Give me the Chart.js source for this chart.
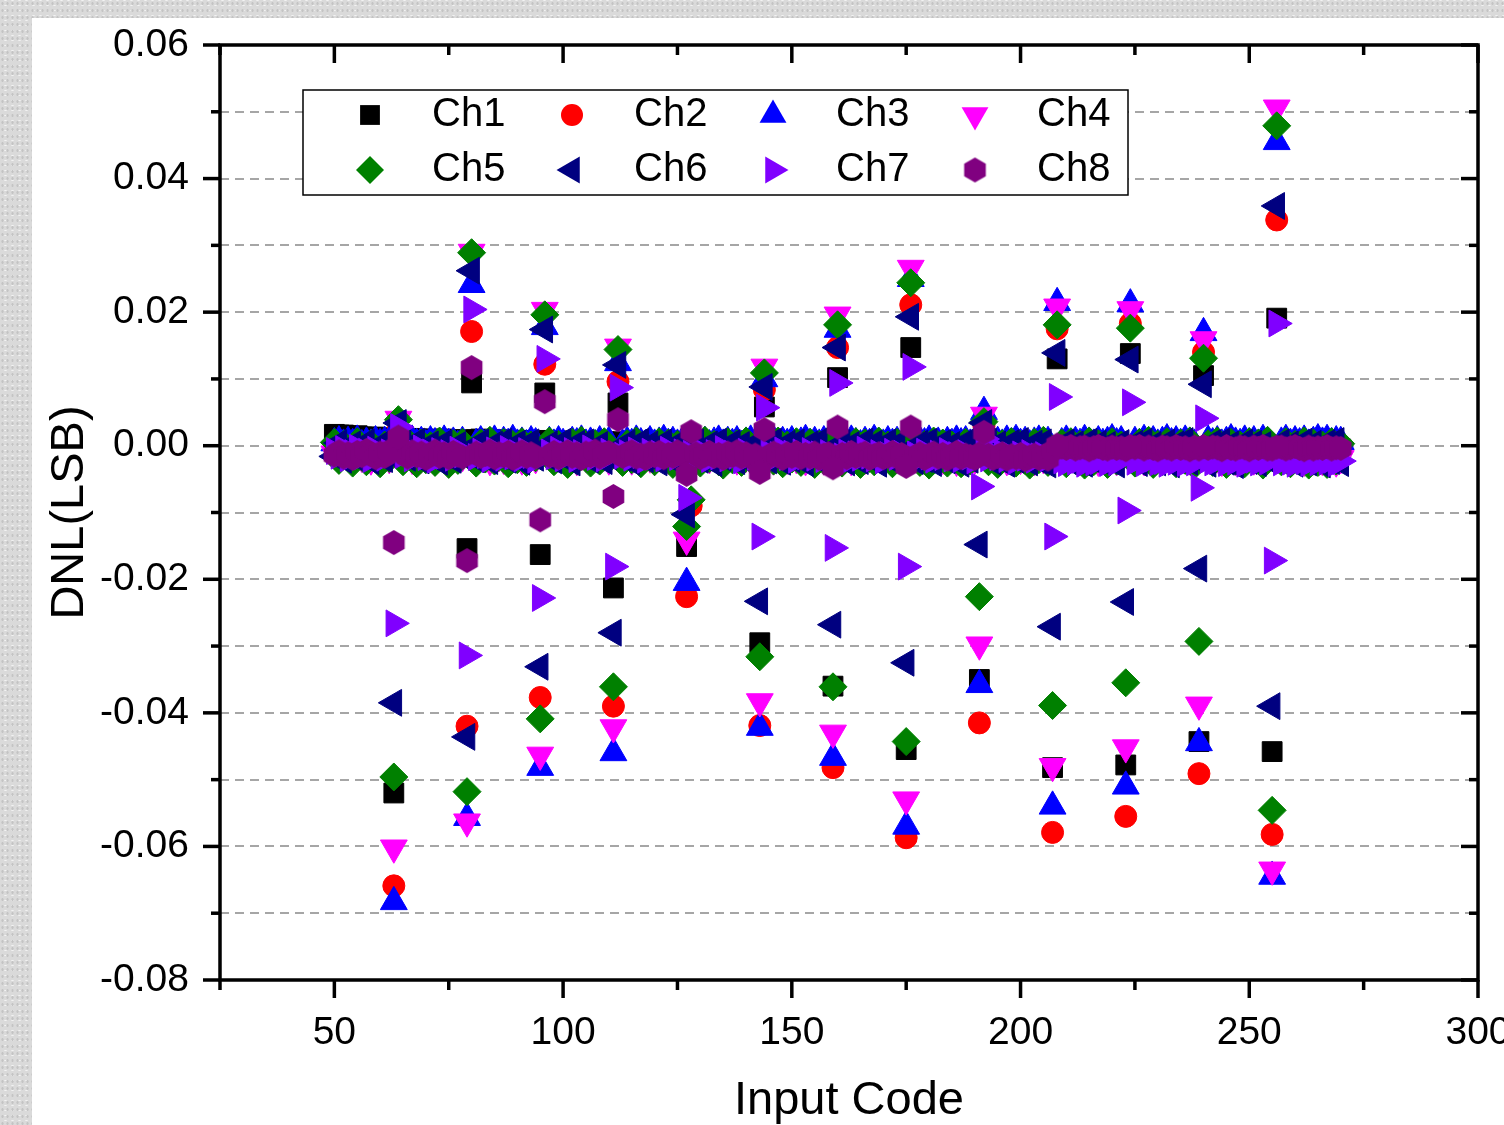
<!DOCTYPE html>
<html><head><meta charset="utf-8">
<script src="https://cdn.jsdelivr.net/npm/chart.js@4.4.1/dist/chart.umd.min.js"></script>
<style>
html,body{margin:0;padding:0;width:1504px;height:1125px;overflow:hidden;}
body{background-color:#dadada;background-image:radial-gradient(#c4c4c4 0.8px,transparent 1.4px),radial-gradient(#f2f2f2 0.8px,transparent 1.4px);background-size:5px 7px,7px 5px;background-position:0 0,2px 3px;}
#panel{position:absolute;left:32px;top:18px;width:1540px;height:1107px;background:#fff;}
canvas{display:block;}
</style></head><body>
<div id="panel"><canvas id="c" width="1540" height="1107"></canvas></div>
<script>
// ---------- DATA ----------
const seriesNames = ['Ch1','Ch2','Ch3','Ch4','Ch5','Ch6','Ch7','Ch8'];
const xTickValues = [25,50,75,100,125,150,175,200,225,250,275,300];
const xLabelValues = [50,100,150,200,250,300];
const yTickValues = [-0.08,-0.07,-0.06,-0.05,-0.04,-0.03,-0.02,-0.01,0,0.01,0.02,0.03,0.04,0.05,0.06];
const yLabelValues = [-0.08,-0.06,-0.04,-0.02,0,0.02,0.04,0.06];

// input codes that are not at a 16-code boundary
const bandCodes = [
 50,51,52,53,54,55,56,57,58,59,60,61,62,
 65,66,67,68,69,70,71,72,73,74,75,76,77,78,
 81,82,83,84,85,86,87,88,89,90,91,92,93,94,
 97,98,99,100,101,102,103,104,105,106,107,108,109,110,
 113,114,115,116,117,118,119,120,121,122,123,124,125,126,
 129,130,131,132,133,134,135,136,137,138,139,140,141,142,
 145,146,147,148,149,150,151,152,153,154,155,156,157,158,
 161,162,163,164,165,166,167,168,169,170,171,172,173,174,
 177,178,179,180,181,182,183,184,185,186,187,188,189,190,
 193,194,195,196,197,198,199,200,201,202,203,204,205,206,
 209,210,211,212,213,214,215,216,217,218,219,220,221,222,
 225,226,227,228,229,230,231,232,233,234,235,236,237,238,
 241,242,243,244,245,246,247,248,249,250,251,252,253,254,
 257,258,259,260,261,262,263,264,265,266,267,268,269,270
];
// codes at the 16-code boundaries (…15 / …16)
const stepCodes = [63,64,79,80,95,96,111,112,127,128,143,144,159,160,175,176,191,192,207,208,223,224,239,240,255,256];

const ch1Band = [
 .0017,.0016,.0016,.0015,.0014,.0015,.0013,.0013,.0012,.0013,.0011,.0012,.0011,
 .0011,.0010,.0011,.0010,.0010,.0009,.0010,.0009,.0009,.0010,.0008,.0009,.0008,.0009,
 .0009,.0010,.0008,.0009,.0008,.0009,.0008,.0007,.0008,.0008,.0007,.0008,.0007,.0007,
 .0008,.0007,.0007,.0006,.0007,.0006,.0007,.0006,.0005,.0006,.0006,.0005,.0006,.0005,
 .0006,.0005,.0005,.0004,.0005,.0004,.0004,.0003,.0004,.0003,.0004,.0003,.0002,.0003,
 .0002,.0003,.0001,.0002,.0001,.0000,.0001,-.0001,.0000,-.0001,-.0002,-.0001,-.0002,-.0003,
 -.0003,-.0004,-.0003,-.0005,-.0004,-.0005,-.0006,-.0005,-.0006,-.0007,-.0006,-.0007,-.0008,-.0007,
 -.0008,-.0007,-.0009,-.0008,-.0008,-.0009,-.0010,-.0009,-.0009,-.0010,-.0011,-.0010,-.0010,-.0011,
 -.0011,-.0010,-.0012,-.0011,-.0011,-.0012,-.0012,-.0011,-.0013,-.0012,-.0012,-.0013,-.0012,-.0013,
 -.0012,-.0013,-.0012,-.0013,-.0014,-.0013,-.0013,-.0014,-.0013,-.0014,-.0014,-.0013,-.0014,-.0014,
 -.0003,-.0004,-.0003,-.0004,-.0004,-.0003,-.0005,-.0004,-.0004,-.0005,-.0004,-.0005,-.0005,-.0004,
 -.0004,-.0003,-.0004,-.0005,-.0004,-.0004,-.0005,-.0004,-.0005,-.0005,-.0004,-.0005,-.0006,-.0005,
 -.0005,-.0004,-.0005,-.0006,-.0005,-.0004,-.0005,-.0006,-.0005,-.0005,-.0006,-.0005,-.0004,-.0005,
 -.0005,-.0006,-.0005,-.0004,-.0005,-.0006,-.0005,-.0005,-.0006,-.0005,-.0004,-.0005,-.0006,-.0005
];
const ch2Band = [
 -.0002,.0001,-.0004,-.0001,-.0006,-.0003,-.0008,-.0002,-.0005,-.0009,-.0004,-.0007,-.0003,
 -.0006,-.0010,-.0004,-.0008,-.0005,-.0011,-.0007,-.0003,-.0009,-.0006,-.0012,-.0005,-.0008,-.0004,
 -.0009,-.0005,-.0011,-.0007,-.0004,-.0010,-.0006,-.0012,-.0008,-.0005,-.0010,-.0007,-.0013,-.0006,
 -.0008,-.0012,-.0006,-.0010,-.0007,-.0013,-.0009,-.0005,-.0011,-.0008,-.0014,-.0007,-.0010,-.0006,
 -.0010,-.0007,-.0013,-.0009,-.0006,-.0012,-.0008,-.0014,-.0010,-.0007,-.0012,-.0009,-.0015,-.0008,
 -.0011,-.0014,-.0008,-.0012,-.0009,-.0015,-.0010,-.0007,-.0013,-.0010,-.0016,-.0009,-.0012,-.0008,
 -.0012,-.0009,-.0015,-.0011,-.0008,-.0014,-.0010,-.0016,-.0012,-.0009,-.0014,-.0011,-.0017,-.0010,
 -.0013,-.0016,-.0010,-.0014,-.0011,-.0017,-.0012,-.0009,-.0015,-.0012,-.0018,-.0011,-.0014,-.0010,
 -.0014,-.0011,-.0017,-.0013,-.0010,-.0016,-.0012,-.0018,-.0014,-.0011,-.0016,-.0013,-.0019,-.0012,
 -.0015,-.0018,-.0012,-.0016,-.0013,-.0019,-.0014,-.0011,-.0017,-.0014,-.0020,-.0013,-.0016,-.0012,
 -.0004,-.0007,-.0002,-.0006,-.0003,-.0008,-.0004,-.0001,-.0006,-.0003,-.0008,-.0002,-.0005,-.0003,
 -.0006,-.0003,-.0008,-.0004,-.0002,-.0007,-.0004,-.0009,-.0005,-.0002,-.0007,-.0004,-.0009,-.0003,
 -.0005,-.0008,-.0003,-.0007,-.0004,-.0009,-.0005,-.0002,-.0007,-.0004,-.0009,-.0003,-.0006,-.0004,
 -.0007,-.0004,-.0009,-.0005,-.0003,-.0008,-.0005,-.0010,-.0006,-.0003,-.0008,-.0005,-.0010,-.0004
];
const ch3Band = [
 .0004,.0007,.0002,.0006,.0003,.0008,.0001,.0005,.0002,.0007,.0003,.0006,.0001,
 .0005,.0002,.0008,.0003,.0006,.0001,.0007,.0004,.0002,.0008,.0003,.0005,.0000,.0006,
 .0003,.0007,.0001,.0005,.0008,.0002,.0006,.0003,.0009,.0002,.0005,.0001,.0007,.0004,
 .0006,.0002,.0007,.0003,.0000,.0006,.0004,.0008,.0002,.0005,.0001,.0007,.0003,.0006,
 .0002,.0006,.0003,.0008,.0004,.0001,.0007,.0002,.0005,.0009,.0003,.0006,.0002,.0005,
 .0007,.0003,.0006,.0001,.0005,.0008,.0002,.0006,.0003,.0007,.0000,.0005,.0008,.0003,
 .0004,.0008,.0002,.0006,.0003,.0007,.0001,.0005,.0009,.0003,.0006,.0002,.0007,.0004,
 .0006,.0002,.0008,.0004,.0001,.0006,.0003,.0009,.0004,.0002,.0007,.0003,.0006,.0001,
 .0003,.0007,.0004,.0008,.0002,.0005,.0001,.0006,.0003,.0008,.0004,.0007,.0002,.0005,
 .0007,.0003,.0006,.0002,.0008,.0004,.0009,.0003,.0006,.0001,.0005,.0008,.0003,.0006,
 .0004,.0008,.0002,.0006,.0003,.0009,.0005,.0002,.0007,.0003,.0006,.0010,.0004,.0007,
 .0006,.0003,.0009,.0004,.0007,.0002,.0006,.0010,.0004,.0007,.0003,.0008,.0005,.0002,
 .0008,.0004,.0007,.0002,.0006,.0010,.0005,.0003,.0008,.0004,.0007,.0002,.0009,.0005,
 .0005,.0009,.0003,.0007,.0004,.0008,.0002,.0006,.0010,.0005,.0009,.0004,.0007,.0006
];
const ch4Band = [
 -.0012,-.0018,-.0009,-.0016,-.0020,-.0011,-.0017,-.0014,-.0021,-.0010,-.0018,-.0015,-.0019,
 -.0016,-.0011,-.0020,-.0014,-.0018,-.0009,-.0017,-.0021,-.0013,-.0019,-.0015,-.0010,-.0018,-.0016,
 -.0019,-.0013,-.0017,-.0022,-.0011,-.0016,-.0020,-.0014,-.0018,-.0012,-.0021,-.0016,-.0013,-.0019,
 -.0014,-.0020,-.0016,-.0011,-.0019,-.0015,-.0022,-.0013,-.0017,-.0020,-.0012,-.0018,-.0015,-.0021,
 -.0017,-.0012,-.0021,-.0015,-.0019,-.0013,-.0018,-.0022,-.0014,-.0016,-.0020,-.0011,-.0019,-.0015,
 -.0020,-.0015,-.0013,-.0019,-.0016,-.0022,-.0012,-.0018,-.0015,-.0021,-.0014,-.0017,-.0020,-.0013,
 -.0015,-.0021,-.0017,-.0012,-.0020,-.0016,-.0019,-.0013,-.0022,-.0015,-.0018,-.0012,-.0021,-.0017,
 -.0018,-.0013,-.0022,-.0016,-.0014,-.0020,-.0015,-.0021,-.0012,-.0019,-.0016,-.0022,-.0014,-.0018,
 -.0013,-.0019,-.0015,-.0021,-.0017,-.0012,-.0020,-.0016,-.0018,-.0023,-.0014,-.0019,-.0016,-.0020,
 -.0021,-.0016,-.0019,-.0013,-.0022,-.0017,-.0014,-.0020,-.0015,-.0018,-.0022,-.0013,-.0019,-.0016,
 -.0017,-.0022,-.0014,-.0019,-.0016,-.0021,-.0013,-.0018,-.0023,-.0015,-.0020,-.0017,-.0022,-.0014,
 -.0019,-.0015,-.0022,-.0017,-.0020,-.0014,-.0021,-.0016,-.0019,-.0023,-.0015,-.0018,-.0021,-.0016,
 -.0016,-.0021,-.0018,-.0023,-.0015,-.0019,-.0022,-.0017,-.0020,-.0014,-.0021,-.0018,-.0023,-.0017,
 -.0020,-.0017,-.0022,-.0015,-.0019,-.0023,-.0016,-.0021,-.0018,-.0022,-.0017,-.0020,-.0024,-.0019
];
const ch5Band = [
 .0005,-.0022,.0002,-.0018,-.0026,.0006,-.0015,-.0024,.0003,-.0020,-.0027,.0001,-.0019,
 -.0024,.0006,-.0017,-.0027,.0004,-.0021,.0000,-.0025,.0007,-.0019,-.0028,.0003,-.0022,.0005,
 -.0026,.0004,-.0020,.0008,-.0023,-.0016,.0005,-.0027,.0002,-.0021,.0006,-.0025,.0001,-.0018,
 .0007,-.0024,.0002,-.0019,-.0028,.0005,-.0022,.0008,-.0017,-.0026,.0003,-.0023,.0006,-.0020,
 -.0025,.0003,-.0021,.0007,-.0027,.0001,-.0018,-.0024,.0006,-.0020,.0004,-.0028,.0002,-.0022,
 .0005,-.0026,.0008,-.0019,.0002,-.0024,-.0029,.0006,-.0021,.0003,-.0025,.0007,-.0018,-.0027,
 .0004,-.0023,.0007,-.0027,.0001,-.0020,.0006,-.0025,-.0018,.0005,-.0028,.0002,-.0022,.0008,
 -.0026,.0003,-.0021,.0006,-.0028,.0004,-.0019,-.0024,.0007,-.0022,.0001,-.0027,.0005,-.0020,
 .0006,-.0025,.0002,-.0029,.0007,-.0021,.0004,-.0026,.0001,-.0019,-.0027,.0005,-.0023,.0003,
 -.0024,.0007,-.0028,.0003,-.0020,.0006,-.0026,.0002,-.0022,-.0029,.0005,-.0021,.0008,-.0025,
 .0004,-.0027,.0006,-.0022,.0002,-.0029,.0007,-.0024,.0003,-.0020,-.0028,.0006,-.0023,.0001,
 -.0026,.0005,-.0021,.0008,-.0028,.0002,-.0024,.0006,-.0019,-.0027,.0004,-.0022,.0007,-.0029,
 .0003,-.0025,.0007,-.0020,-.0028,.0005,-.0023,.0001,-.0027,.0006,-.0021,.0004,-.0029,.0008,
 -.0024,.0006,-.0027,.0002,-.0022,.0007,-.0029,.0004,-.0025,.0001,-.0028,.0006,-.0023,.0003
];
const ch6Band = [
 -.0016,.0004,-.0021,-.0008,.0002,-.0019,-.0011,.0005,-.0023,-.0006,.0001,-.0020,-.0013,
 .0003,-.0018,-.0009,.0006,-.0022,-.0012,.0002,-.0017,-.0024,.0004,-.0010,-.0021,.0001,-.0015,
 -.0020,.0005,-.0013,-.0023,.0002,-.0016,.0006,-.0021,-.0009,.0003,-.0024,-.0014,.0005,-.0018,
 .0002,-.0022,-.0011,.0006,-.0019,-.0025,.0003,-.0015,.0005,-.0021,-.0010,.0001,-.0023,-.0016,
 -.0018,.0004,-.0024,-.0012,.0006,-.0020,.0002,-.0017,-.0025,.0005,-.0014,-.0021,.0003,-.0019,
 .0005,-.0021,-.0015,.0002,-.0026,.0006,-.0018,-.0011,.0004,-.0023,.0001,-.0019,-.0025,.0003,
 -.0022,.0006,-.0017,-.0024,.0003,-.0020,.0005,-.0013,-.0026,.0002,-.0018,.0006,-.0021,-.0015,
 .0004,-.0025,.0001,-.0019,-.0023,.0006,-.0016,.0003,-.0027,-.0014,.0005,-.0022,.0002,-.0020,
 -.0023,.0003,-.0020,.0006,-.0026,-.0015,.0004,-.0022,.0001,-.0018,-.0027,.0005,-.0021,.0002,
 .0006,-.0024,.0002,-.0019,-.0027,.0004,-.0021,.0007,-.0016,-.0025,.0003,-.0022,.0005,-.0028,
 -.0020,.0005,-.0025,.0002,-.0018,-.0027,.0006,-.0022,.0003,-.0024,.0001,-.0019,-.0028,.0004,
 .0003,-.0026,.0006,-.0021,.0001,-.0025,-.0018,.0005,-.0028,.0002,-.0022,.0007,-.0024,-.0019,
 -.0027,.0004,-.0020,.0006,-.0024,.0002,-.0029,-.0017,.0005,-.0023,.0003,-.0026,.0001,-.0021,
 .0005,-.0022,.0002,-.0027,-.0019,.0006,-.0025,.0003,-.0021,-.0028,.0004,-.0023,.0007,-.0026
];
const ch7Band = [
 -.0008,-.0015,-.0005,-.0019,-.0011,-.0003,-.0016,-.0009,-.0020,-.0006,-.0013,-.0018,-.0010,
 -.0014,-.0007,-.0019,-.0012,-.0004,-.0017,-.0010,-.0021,-.0008,-.0015,-.0011,-.0018,-.0006,-.0013,
 -.0017,-.0009,-.0014,-.0020,-.0007,-.0012,-.0018,-.0005,-.0016,-.0011,-.0019,-.0008,-.0014,-.0021,
 -.0010,-.0016,-.0006,-.0019,-.0013,-.0008,-.0020,-.0011,-.0015,-.0004,-.0017,-.0012,-.0019,-.0009,
 -.0015,-.0011,-.0018,-.0007,-.0014,-.0021,-.0009,-.0016,-.0012,-.0019,-.0006,-.0013,-.0017,-.0010,
 -.0018,-.0008,-.0013,-.0020,-.0011,-.0016,-.0005,-.0019,-.0012,-.0015,-.0022,-.0009,-.0014,-.0017,
 -.0011,-.0019,-.0014,-.0007,-.0017,-.0012,-.0021,-.0010,-.0016,-.0008,-.0018,-.0013,-.0020,-.0011,
 -.0016,-.0010,-.0020,-.0013,-.0018,-.0006,-.0015,-.0019,-.0011,-.0022,-.0014,-.0009,-.0017,-.0012,
 -.0013,-.0018,-.0009,-.0016,-.0021,-.0012,-.0017,-.0008,-.0019,-.0014,-.0020,-.0011,-.0016,-.0022,
 -.0019,-.0012,-.0017,-.0010,-.0020,-.0015,-.0023,-.0013,-.0018,-.0011,-.0021,-.0016,-.0014,-.0019,
 -.0022,-.0026,-.0019,-.0024,-.0021,-.0027,-.0020,-.0025,-.0023,-.0018,-.0026,-.0022,-.0025,-.0020,
 -.0024,-.0020,-.0026,-.0022,-.0019,-.0025,-.0023,-.0027,-.0021,-.0024,-.0019,-.0026,-.0022,-.0025,
 -.0021,-.0025,-.0023,-.0019,-.0026,-.0022,-.0024,-.0020,-.0027,-.0023,-.0021,-.0025,-.0019,-.0024,
 -.0025,-.0021,-.0024,-.0027,-.0020,-.0023,-.0026,-.0022,-.0025,-.0019,-.0024,-.0021,-.0026,-.0023
];
const ch8Band = [
 -.0014,-.0009,-.0017,-.0012,-.0019,-.0010,-.0015,-.0007,-.0013,-.0018,-.0011,-.0016,-.0008,
 -.0012,-.0017,-.0009,-.0015,-.0011,-.0019,-.0013,-.0008,-.0016,-.0012,-.0018,-.0010,-.0014,-.0017,
 -.0011,-.0016,-.0013,-.0008,-.0018,-.0012,-.0015,-.0010,-.0019,-.0014,-.0009,-.0016,-.0012,-.0017,
 -.0015,-.0010,-.0018,-.0013,-.0009,-.0016,-.0012,-.0019,-.0011,-.0015,-.0008,-.0017,-.0013,-.0010,
 -.0016,-.0012,-.0009,-.0017,-.0014,-.0019,-.0011,-.0015,-.0010,-.0018,-.0013,-.0016,-.0009,-.0014,
 -.0012,-.0018,-.0014,-.0010,-.0016,-.0013,-.0019,-.0011,-.0015,-.0009,-.0017,-.0012,-.0018,-.0014,
 -.0017,-.0011,-.0015,-.0019,-.0012,-.0016,-.0010,-.0018,-.0013,-.0017,-.0011,-.0019,-.0014,-.0012,
 -.0013,-.0018,-.0010,-.0016,-.0014,-.0011,-.0019,-.0015,-.0012,-.0018,-.0016,-.0010,-.0017,-.0013,
 -.0016,-.0012,-.0019,-.0014,-.0011,-.0017,-.0013,-.0020,-.0015,-.0010,-.0018,-.0014,-.0016,-.0019,
 -.0014,-.0019,-.0016,-.0012,-.0020,-.0015,-.0018,-.0013,-.0021,-.0017,-.0014,-.0019,-.0016,-.0020,
 -.0002,-.0004,-.0001,-.0005,-.0003,-.0002,-.0006,-.0003,-.0001,-.0004,-.0005,-.0002,-.0004,-.0003,
 -.0003,-.0001,-.0005,-.0002,-.0004,-.0006,-.0002,-.0003,-.0005,-.0001,-.0004,-.0003,-.0006,-.0002,
 -.0004,-.0002,-.0003,-.0006,-.0001,-.0004,-.0005,-.0002,-.0003,-.0006,-.0002,-.0004,-.0001,-.0005,
 -.0002,-.0005,-.0003,-.0001,-.0004,-.0006,-.0002,-.0005,-.0003,-.0004,-.0001,-.0005,-.0003,-.0004
];

const ch1Step = [-.0520,.0012,-.0154,.0094,-.0163,.0079,-.0213,.0064,-.0151,-.0002,-.0295,.0058,-.0360,.0102,-.0455,.0147,-.0350,.0025,-.0482,.0130,-.0478,.0138,-.0443,.0105,-.0458,.0191];
const ch2Step = [-.0659,.0025,-.0420,.0171,-.0377,.0122,-.0390,.0096,-.0226,-.0090,-.0419,.0084,-.0482,.0147,-.0587,.0211,-.0415,.0030,-.0579,.0175,-.0555,.0183,-.0491,.0140,-.0582,.0338];
const ch3Step = [-.0683,.0030,-.0557,.0241,-.0482,.0178,-.0460,.0124,-.0205,.0008,-.0422,.0100,-.0467,.0174,-.0570,.0250,-.0358,.0051,-.0540,.0214,-.0510,.0212,-.0445,.0169,-.0645,.0455];
const ch4Step = [-.0602,.0040,-.0563,.0290,-.0463,.0203,-.0422,.0148,-.0141,-.0005,-.0383,.0118,-.0430,.0196,-.0530,.0266,-.0298,.0046,-.0480,.0208,-.0452,.0204,-.0388,.0159,-.0635,.0506];
const ch5Step = [-.0496,.0039,-.0518,.0289,-.0409,.0196,-.0361,.0144,-.0121,-.0081,-.0316,.0109,-.0361,.0181,-.0443,.0244,-.0226,.0036,-.0389,.0181,-.0355,.0176,-.0293,.0131,-.0546,.0479];
const ch6Step = [-.0385,.0034,-.0436,.0262,-.0331,.0174,-.0280,.0121,-.0103,-.0010,-.0233,.0088,-.0268,.0147,-.0325,.0193,-.0148,.0034,-.0271,.0139,-.0234,.0129,-.0184,.0092,-.0390,.0359];
const ch7Step = [-.0266,.0028,-.0314,.0204,-.0228,.0130,-.0181,.0087,-.0078,-.0012,-.0136,.0057,-.0153,.0094,-.0181,.0118,-.0061,.0010,-.0136,.0073,-.0097,.0065,-.0063,.0041,-.0172,.0183];
const ch8Step = [-.0145,.0013,-.0172,.0117,-.0111,.0066,-.0076,.0039,-.0043,.0021,-.0040,.0024,-.0033,.0028,-.0031,.0028,-.0012,.0020,-.0008,.0001,-.0006,-.0001,-.0005,-.0001,-.0005,-.0002];

const bandSeries = [ch1Band,ch2Band,ch3Band,ch4Band,ch5Band,ch6Band,ch7Band,ch8Band];
const stepSeries = [ch1Step,ch2Step,ch3Step,ch4Step,ch5Step,ch6Step,ch7Step,ch8Step];

// ---------- STYLE ----------
const FONT = "'Liberation Sans', Arial, Helvetica, sans-serif";
Chart.defaults.font.family = FONT;
Chart.defaults.color = '#000';

function makeHexagon(color, R) {
  const s = Math.ceil(2 * R + 2);
  const c = document.createElement('canvas');
  c.width = s; c.height = s;
  const g = c.getContext('2d');
  g.fillStyle = color;
  g.beginPath();
  for (let k = 0; k < 6; k++) {
    const a = (-90 + 60 * k) * Math.PI / 180;
    const px = s / 2 + R * Math.cos(a), py = s / 2 + R * Math.sin(a);
    if (k === 0) g.moveTo(px, py); else g.lineTo(px, py);
  }
  g.closePath(); g.fill();
  return c;
}
const hexImg = makeHexagon('#800080', 12.5);

const styles = [
  {color:'#000000', style:'rect',     radius:14,   rotation:0},
  {color:'#FF0000', style:'circle',   radius:11,   rotation:0},
  {color:'#0000FF', style:'triangle', radius:15.5, rotation:0},
  {color:'#FF00FF', style:'triangle', radius:15.5, rotation:180},
  {color:'#008000', style:'rectRot',  radius:14,   rotation:0},
  {color:'#000080', style:'triangle', radius:15.5, rotation:270},
  {color:'#8000FF', style:'triangle', radius:15.5, rotation:90},
  {color:'#800080', style:'hex',      radius:12.5, rotation:0}
];

const datasets = seriesNames.map((name, i) => {
  const st = styles[i];
  const pts = [];
  bandSeries[i].forEach((v, j) => { if (bandCodes[j] !== undefined) pts.push({x: bandCodes[j], y: v}); });
  stepSeries[i].forEach((v, j) => pts.push({x: stepCodes[j], y: v}));
  return {
    label: name,
    data: pts,
    order: seriesNames.length - i,
    pointStyle: st.style === 'hex' ? hexImg : st.style,
    pointRotation: st.rotation,
    pointRadius: st.radius,
    pointHoverRadius: st.radius,
    pointBackgroundColor: st.color,
    pointBorderColor: st.color,
    pointBorderWidth: st.style === 'hex' ? 0 : 1,
    showLine: false
  };
});

function drawMarker(ctx, st, x, y) {
  if (st.style === 'hex') { ctx.drawImage(hexImg, x - hexImg.width / 2, y - hexImg.height / 2); return; }
  ctx.fillStyle = st.color;
  ctx.beginPath();
  const r = st.radius;
  if (st.style === 'rect') { const h = r * Math.SQRT1_2; ctx.rect(x - h, y - h, 2 * h, 2 * h); }
  else if (st.style === 'circle') { ctx.arc(x, y, r, 0, Math.PI * 2); }
  else if (st.style === 'rectRot') { ctx.moveTo(x - r, y); ctx.lineTo(x, y - r); ctx.lineTo(x + r, y); ctx.lineTo(x, y + r); ctx.closePath(); }
  else {
    let rad = st.rotation * Math.PI / 180;
    for (let k = 0; k < 3; k++) {
      const px = x + Math.sin(rad) * r, py = y - Math.cos(rad) * r;
      if (k === 0) ctx.moveTo(px, py); else ctx.lineTo(px, py);
      rad += 2 * Math.PI / 3;
    }
    ctx.closePath();
  }
  ctx.fill();
}

const framePlugin = {
  id: 'frameAndLegend',
  afterDraw(chart) {
    const {ctx, chartArea: a, scales: {x, y}} = chart;
    ctx.save();
    ctx.strokeStyle = '#000';
    ctx.lineWidth = 3.5;
    ctx.lineCap = 'butt';
    const line = (x0, y0, x1, y1) => { ctx.beginPath(); ctx.moveTo(x0, y0); ctx.lineTo(x1, y1); ctx.stroke(); };
    xTickValues.forEach(v => {
      const px = x.getPixelForValue(v);
      const len = xLabelValues.includes(v) ? 18 : 10;
      line(px, a.bottom, px, a.bottom + len);
      line(px, a.top, px, a.top + len);
    });
    yTickValues.forEach(v => {
      const py = y.getPixelForValue(v);
      const major = yLabelValues.some(t => Math.abs(t - v) < 1e-9);
      const len = major ? 17 : 9;
      line(a.left - len, py, a.left, py);
      line(a.right - len, py, a.right, py);
    });
    ctx.strokeRect(a.left, a.top, a.right - a.left, a.bottom - a.top);

    // legend
    const box = {l: 271, t: 72, r: 1096, b: 177};
    ctx.fillStyle = '#fff';
    ctx.fillRect(box.l, box.t, box.r - box.l, box.b - box.t);
    ctx.lineWidth = 1.5;
    ctx.strokeRect(box.l, box.t, box.r - box.l, box.b - box.t);
    const colMarker = [338, 540, 741, 943];
    const colText = [400, 602, 804, 1005];
    const rowY = [97, 152];
    ctx.font = '40px ' + FONT;
    ctx.textBaseline = 'middle';
    ctx.textAlign = 'left';
    seriesNames.forEach((name, i) => {
      const c = i % 4, r = Math.floor(i / 4);
      drawMarker(ctx, styles[i], colMarker[c], rowY[r]);
      ctx.fillStyle = '#000';
      ctx.fillText(name, colText[c], rowY[r]);
    });
    ctx.restore();
  }
};

new Chart(document.getElementById('c'), {
  type: 'scatter',
  data: {datasets},
  plugins: [framePlugin],
  options: {
    responsive: false,
    animation: false,
    devicePixelRatio: 1,
    events: [],
    layout: {padding: {left: 0, top: 27, right: 94, bottom: 0}},
    plugins: {legend: {display: false}, tooltip: {enabled: false}, title: {display: false}},
    scales: {
      x: {
        type: 'linear', position: 'bottom', min: 25, max: 300,
        ticks: {stepSize: 25, maxTicksLimit: 30, autoSkip: false, maxRotation: 0, minRotation: 0, padding: 30,
          font: {size: 39}, color: '#000',
          callback: v => xLabelValues.includes(v) ? String(v) : ''},
        grid: {display: false, drawTicks: false},
        border: {display: false},
        title: {display: true, text: 'Input Code', color: '#000', font: {size: 47, lineHeight: 1}, padding: {top: 0, bottom: 0}},
        afterFit: s => { s.height = 145; }
      },
      y: {
        type: 'linear', position: 'left', min: -0.08, max: 0.06,
        ticks: {stepSize: 0.01, maxTicksLimit: 30, autoSkip: false, padding: 0, font: {size: 39}, color: '#000',
          callback: v => {
            const r = Math.round(v * 100);
            return r % 2 === 0 ? (r / 100).toFixed(2) : '';
          }},
        grid: {color: '#a6a6a6', lineWidth: 2, drawTicks: true, tickLength: 31, tickColor: 'rgba(0,0,0,0)'},
        border: {display: false, dash: [9, 6]},
        title: {display: true, text: 'DNL(LSB)', color: '#000', font: {size: 47, lineHeight: 1}, padding: {top: 15, bottom: 0}},
        afterFit: s => { s.width = 188; }
      }
    }
  }
});
</script></body></html>
